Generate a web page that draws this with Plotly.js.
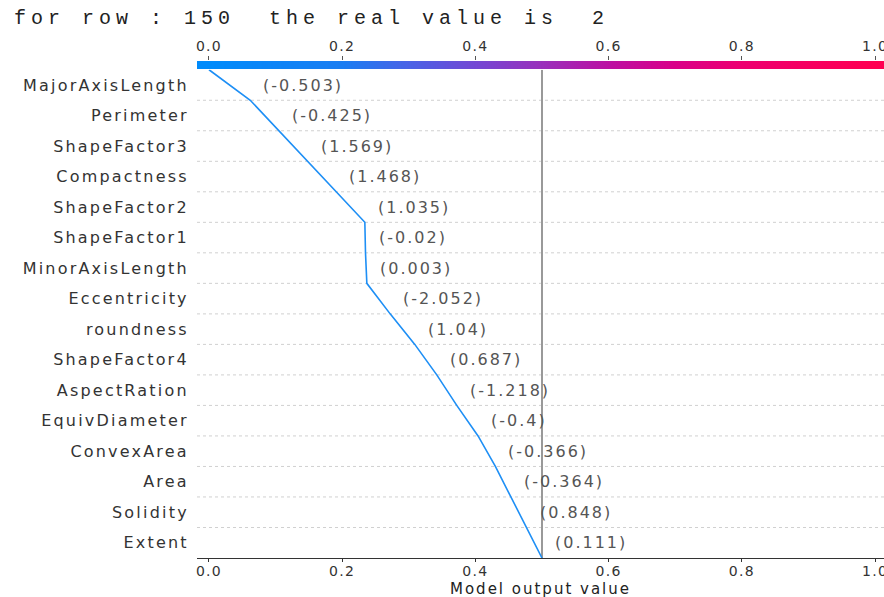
<!DOCTYPE html>
<html>
<head>
<meta charset="utf-8">
<script src="https://cdn.plot.ly/plotly-3.0.1.min.js"></script>
<style>
  html, body { margin: 0; padding: 0; background: #fff; }
  #chart { width: 884px; height: 597px; }
  .gtitle { letter-spacing: 5px; }
  .ytick text { letter-spacing: 2.2px; }
  .xtick text, .x2tick text { letter-spacing: 1.3px; }
  .annotation-text { letter-spacing: 2px; }
</style>
</head>
<body>
<div id="chart"></div>
<script>
// Features, top to bottom
const features = ["MajorAxisLength", "Perimeter", "ShapeFactor3", "Compactness", "ShapeFactor2",
  "ShapeFactor1", "MinorAxisLength", "Eccentricity", "roundness", "ShapeFactor4",
  "AspectRation", "EquivDiameter", "ConvexArea", "Area", "Solidity", "Extent"];
// Displayed feature values, top to bottom
const featureValues = [-0.503, -0.425, 1.569, 1.468, 1.035, -0.02, 0.003, -2.052, 1.04, 0.687,
  -1.218, -0.4, -0.366, -0.364, 0.848, 0.111];
// SHAP contributions, top to bottom
const shapValues = [-0.062, -0.043, -0.043, -0.043, -0.043, -0.001, -0.002, -0.035, -0.037, -0.033,
  -0.030, -0.032, -0.026, -0.024, -0.023, -0.023];
const baseValue = 0.5;
const xTicks = [0.0, 0.2, 0.4, 0.6, 0.8, 1.0];
const barStops = [-0.02, 0.0, 0.2, 0.3, 0.4, 0.5, 0.6, 0.7, 0.8, 1.0, 1.02];
const titleText = "for row : 150  the real value is  2";
const xTitle = "Model output value";

// rows from bottom (index 0 = Extent)
const n = features.length;
const featBottomUp = features.slice().reverse();
const valsBottomUp = featureValues.slice().reverse();
const shapBottomUp = shapValues.slice().reverse();
const cum = [baseValue];
for (let i = 0; i < n; i++) cum.push(cum[i] + shapBottomUp[i]);
const cumY = cum.map((_, i) => i - 0.5);

const colorscale = [
  [0.0, "#008bfb"], [0.2, "#1a7df2"], [0.3, "#4a62e6"], [0.4, "#7347d4"],
  [0.5, "#9a2fbb"], [0.6, "#bc10a2"], [0.7, "#d90188"], [0.8, "#ed0070"], [1.0, "#ff0051"]
];

const traces = [
  {
    type: "heatmap", x: barStops, y: [0], z: [barStops],
    xaxis: "x2", yaxis: "y2", zsmooth: "best", zmin: 0, zmax: 1,
    colorscale: colorscale, showscale: false, hoverinfo: "skip"
  },
  {
    type: "scatter", mode: "lines", x: [baseValue, baseValue], y: [-0.5, n - 0.5],
    line: { color: "#999999", width: 2 }, hoverinfo: "skip", showlegend: false
  },
  {
    type: "scatter", mode: "lines", x: cum, y: cumY,
    line: { color: "#1e8ff5", width: 1.6 }, showlegend: false
  }
];

const shapes = [];
for (let i = 0; i < n - 1; i++) {
  shapes.push({
    type: "line", xref: "paper", yref: "y", x0: 0, x1: 1, y0: i + 0.5, y1: i + 0.5,
    line: { color: "#d0d0d0", width: 1, dash: "dot" }, layer: "below"
  });
}

const annotations = [];
for (let i = 0; i < n; i++) {
  annotations.push({
    x: Math.max(cum[i], cum[i + 1]), y: i, xref: "x", yref: "y",
    text: "(" + valsBottomUp[i] + ")", showarrow: false, xanchor: "left", yanchor: "middle",
    xshift: 11, font: { family: "DejaVu Sans", size: 16, color: "#555555" }
  });
}
annotations.push({
  x: 0.5, y: 0, yshift: -31, xref: "paper", yref: "paper", text: xTitle, showarrow: false,
  xanchor: "center", yanchor: "middle", font: { family: "DejaVu Sans", size: 15, color: "#222222" }
});

const layout = {
  width: 884, height: 597,
  margin: { l: 197, r: 0, t: 61, b: 39 },
  paper_bgcolor: "#ffffff", plot_bgcolor: "#ffffff",
  showlegend: false,
  font: { family: "DejaVu Sans", size: 15, color: "#333333" },
  title: {
    text: titleText, xref: "container", yref: "container",
    x: 14 / 884, xanchor: "left", y: 1 - 17 / 597, yanchor: "middle",
    font: { family: "Liberation Mono", size: 20, color: "#222222" }
  },
  xaxis: {
    range: [-0.018, 1.0135], tickvals: xTicks, tickformat: ".1f",
    ticks: "outside", ticklen: 3, tickcolor: "#333", showline: true, linecolor: "#333", linewidth: 1,
    showgrid: false, zeroline: false, anchor: "y", ticklabeloverflow: "allow",
    ticklabelstandoff: -3,
    tickfont: { size: 14, color: "#333" }, automargin: false
  },
  yaxis: {
    domain: [0, 0.9824], range: [-0.5, n - 0.5],
    tickvals: featBottomUp.map((_, i) => i), ticktext: featBottomUp,
    ticks: "outside", ticklen: 4, tickcolor: "rgba(0,0,0,0)",
    showgrid: false, zeroline: false, showline: false, automargin: false,
    tickfont: { size: 16, color: "#333" }
  },
  xaxis2: {
    matches: "x", anchor: "y2", side: "top",
    tickvals: xTicks, tickformat: ".1f", ticks: "outside", ticklen: 4, tickcolor: "#555",
    showgrid: false, zeroline: false, showline: false, ticklabeloverflow: "allow",
    ticklabelstandoff: -1, automargin: false,
    tickfont: { size: 14, color: "#333" }
  },
  yaxis2: {
    domain: [0.984, 1], range: [-0.5, 0.5], visible: false
  },
  shapes: shapes,
  annotations: annotations
};

Plotly.newPlot("chart", traces, layout, { displayModeBar: false, staticPlot: true });
</script>
</body>
</html>
